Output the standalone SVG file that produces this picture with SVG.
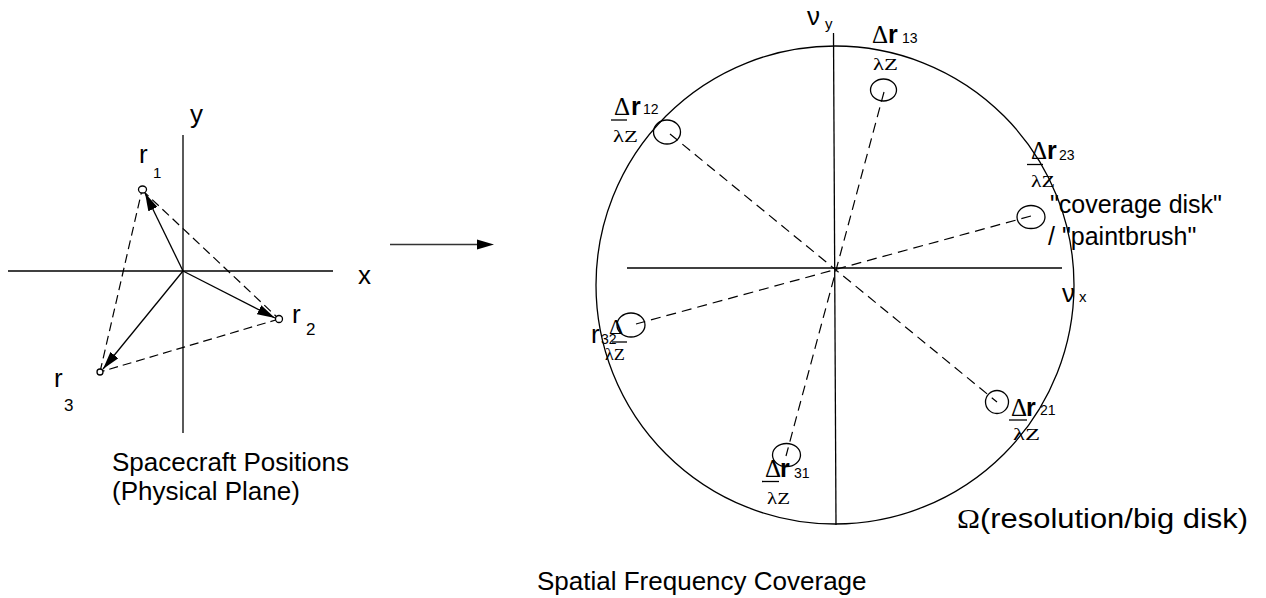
<svg xmlns="http://www.w3.org/2000/svg" width="1266" height="598" viewBox="0 0 1266 598">
<style>
.ln{stroke:#000;stroke-width:1.3;fill:none}
.dl{stroke:#000;stroke-width:1.2;fill:none;stroke-dasharray:10,6}
.dll{stroke:#000;stroke-width:1.2;fill:none;stroke-dasharray:9,5}
.sans{font-family:"Liberation Sans",Arial,sans-serif;fill:#000}
.ser{font-family:"Liberation Serif","Times New Roman",serif;fill:#000}
.big{font-size:26px}
.sub{font-size:15px}
.sub2{font-size:14px}
.dl1{font-size:25px}
.rb{font-size:25px;font-weight:bold}
.lz{font-size:16px}
</style>
<defs>
<marker id="ah" markerUnits="userSpaceOnUse" viewBox="0 0 18 10" refX="18" refY="5" markerWidth="18" markerHeight="10" orient="auto">
<path d="M0,0 L18,5 L0,10 z" fill="#000"/>
</marker>
</defs>
<rect width="1266" height="598" fill="#fff"/>

<!-- Left panel: physical plane -->
<g id="left-axes">
<line class="ln" x1="8" y1="271" x2="333" y2="271"/>
<line class="ln" x1="183" y1="135" x2="183" y2="433"/>
<text class="sans big" x="190" y="123">y</text>
<text class="sans big" x="358" y="284">x</text>
</g>
<g id="connectors-left">
<line class="dll" x1="142" y1="190" x2="279" y2="319"/>
<line class="dll" x1="279" y1="319" x2="100" y2="372"/>
<line class="dll" x1="100" y1="372" x2="142" y2="190"/>
<line class="ln" x1="183" y1="271" x2="145" y2="193" marker-end="url(#ah)"/>
<line class="ln" x1="183" y1="271" x2="275" y2="318" marker-end="url(#ah)"/>
<line class="ln" x1="183" y1="271" x2="103" y2="369" marker-end="url(#ah)"/>
</g>
<g id="r1">
<ellipse cx="142.5" cy="189.5" rx="4" ry="3.5" fill="#fff" stroke="#000" stroke-width="1.3"/>
<text class="sans big" x="139" y="163">r</text>
<text class="sans sub" x="153" y="178">1</text>
</g>
<g id="r2">
<circle cx="279" cy="319" r="3.5" fill="#fff" stroke="#000" stroke-width="1.3"/>
<text class="sans big" x="292" y="323">r</text>
<text class="sans" font-size="17" x="306" y="335">2</text>
</g>
<g id="r3">
<circle cx="100" cy="372" r="3" fill="#fff" stroke="#000" stroke-width="1.3"/>
<text class="sans big" x="54" y="387">r</text>
<text class="sans" font-size="17" x="64" y="411">3</text>
</g>
<g id="left-caption">
<text class="sans big" x="112" y="471">Spacecraft Positions</text>
<text class="sans big" x="112" y="500">(Physical Plane)</text>
</g>

<!-- Transition arrow -->
<g id="connectors-mid">
<line x1="390" y1="244.5" x2="480" y2="244.5" stroke="#333" stroke-width="1.5"/>
<path d="M477,239.5 L494,244.5 L477,249.5 z" fill="#000"/>
</g>

<!-- Right panel: spatial frequency coverage -->
<g id="big-disk">
<circle class="ln" cx="835" cy="285" r="239"/>
<line class="ln" x1="833.5" y1="33" x2="836" y2="525"/>
<line class="ln" x1="627" y1="268" x2="1062" y2="268"/>
<text class="sans big" x="807" y="25">ν</text>
<text class="sans sub" x="825" y="29">y</text>
<text class="sans big" x="1062" y="302">ν</text>
<text class="sans sub" x="1079" y="302">x</text>
<text x="957" y="528" font-size="27" textLength="291" lengthAdjust="spacingAndGlyphs"><tspan class="ser">Ω</tspan><tspan class="sans">(resolution/big disk)</tspan></text>
</g>
<g id="connectors-right">
<line class="dl" x1="670" y1="134" x2="997" y2="402"/>
<line class="dl" x1="884" y1="92" x2="786" y2="456"/>
<line class="dl" x1="1031" y1="216" x2="636" y2="324"/>
</g>
<g id="d12">
<ellipse class="ln" cx="667" cy="132" rx="13.5" ry="12"/>
<text class="ser dl1" x="614" y="115">Δ</text>
<text class="sans rb" x="631" y="115">r</text>
<text class="sans sub2" x="643" y="114">12</text>
<line class="ln" x1="611" y1="120" x2="627" y2="120"/>
<text class="ser lz" x="613" y="142" textLength="25" lengthAdjust="spacingAndGlyphs">λZ</text>
</g>
<g id="d13">
<ellipse class="ln" cx="883.5" cy="90" rx="13" ry="11"/>
<text class="ser dl1" x="872" y="43">Δ</text>
<text class="sans rb" x="888" y="43">r</text>
<text class="sans sub2" x="902" y="43">13</text>
<text class="ser lz" x="873" y="70" textLength="25" lengthAdjust="spacingAndGlyphs">λZ</text>
</g>
<g id="d23">
<ellipse class="ln" cx="1031" cy="217" rx="14" ry="11.5"/>
<text class="ser dl1" x="1031" y="159">Δ</text>
<text class="sans rb" x="1047" y="159">r</text>
<text class="sans sub2" x="1059" y="160">23</text>
<line class="ln" x1="1027" y1="164.5" x2="1043" y2="164.5"/>
<text class="ser lz" x="1031" y="187" textLength="24" lengthAdjust="spacingAndGlyphs">λZ</text>
<text class="sans" font-size="25" x="1050" y="213">"coverage disk"</text>
<text class="sans" font-size="25" x="1048" y="245">/ "paintbrush"</text>
</g>
<g id="d32">
<ellipse class="ln" cx="631" cy="325" rx="14" ry="12"/>
<text class="sans big" x="591" y="343">r</text>
<text class="sans" font-size="14" x="601" y="344">32</text>
<text class="ser" font-size="22" x="609" y="334">Δ</text>
<line class="ln" x1="612" y1="342" x2="627" y2="342"/>
<text class="ser lz" x="605" y="360" textLength="20" lengthAdjust="spacingAndGlyphs">λZ</text>
</g>
<g id="d31">
<ellipse class="ln" cx="786.5" cy="455" rx="14" ry="11.5"/>
<text class="ser dl1" x="765" y="477">Δ</text>
<text class="sans rb" x="780" y="477">r</text>
<text class="sans sub2" x="794" y="478">31</text>
<line class="ln" x1="762" y1="481.5" x2="779" y2="481.5"/>
<text class="ser lz" x="767" y="504" textLength="23" lengthAdjust="spacingAndGlyphs">λZ</text>
</g>
<g id="d21">
<ellipse class="ln" cx="997" cy="402" rx="11.5" ry="11.5"/>
<text class="ser dl1" x="1011" y="416">Δ</text>
<text class="sans rb" x="1026" y="416">r</text>
<text class="sans sub2" x="1040" y="415">21</text>
<line class="ln" x1="1009" y1="420" x2="1027" y2="420"/>
<text class="ser lz" x="1013" y="440" textLength="27" lengthAdjust="spacingAndGlyphs">λZ</text>
</g>
<g id="bottom-caption">
<text class="sans big" x="537" y="590">Spatial Frequency Coverage</text>
</g>
</svg>
